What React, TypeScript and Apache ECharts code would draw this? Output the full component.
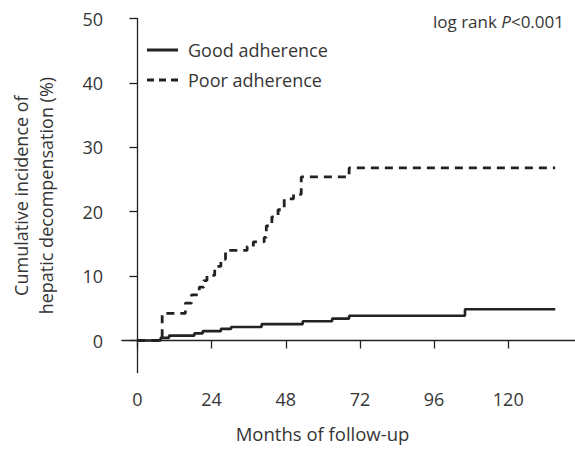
import React, { useEffect, useRef } from "react";
import * as echarts from "echarts";

const xTicks = [0, 24, 48, 72, 96, 120];
const yTicks = [0, 10, 20, 30, 40, 50];

const goodTimes = [0, 7.5, 10.2, 18.4, 21.1, 27, 30.3, 40.2, 53.5, 63, 68.5, 106, 135.2];
const goodValues = [0, 0.4, 0.75, 1.1, 1.45, 1.8, 2.1, 2.55, 3.0, 3.4, 3.85, 4.85, 4.85];

const poorTimes = [0, 8, 15.5, 17.5, 20, 21.5, 22.5, 25, 27, 28.5, 35.5, 37.5, 41, 41.7, 43.5, 45.5, 47.5, 50.5, 53, 68.5, 135.2];
const poorValues = [0, 4.2, 5.8, 7.1, 8.3, 9.3, 10.1, 11.5, 12.6, 14.0, 14.6, 15.3, 16.0, 17.8, 19.2, 20.3, 22.0, 22.7, 25.4, 26.8, 26.8];

const FONT = "'Open Sans', 'Noto Sans', sans-serif";
const TEXT = "#363636";
const INK = "#222";

const SOLID_ICON = "path://M0,0h31v3h-31z";
const DASH_ICON = "path://M0,0h7v3h-7z M12,0h7v3h-7z M24,0h7v3h-7z";

export default function App() {
  const ref = useRef<HTMLDivElement>(null);
  useEffect(() => {
    if (!ref.current) return;
    const chart = echarts.init(ref.current, null, { renderer: "svg" });
    const good = goodTimes.map((t, i) => [t, goodValues[i]]);
    const poor = poorTimes.map((t, i) => [t, poorValues[i]]);
    chart.setOption({
      animation: false,
      textStyle: { fontFamily: FONT },
      title: {
        text: "{a|log rank }{i|P}{a|<0.001}",
        right: 6,
        top: 8,
        textStyle: {
          fontWeight: "normal",
          rich: {
            a: { fontFamily: FONT, fontSize: 17, color: TEXT, fontWeight: "normal" },
            i: { fontFamily: FONT, fontSize: 17, color: TEXT, fontStyle: "italic", fontWeight: "normal" },
          },
        },
      },
      legend: {
        orient: "vertical",
        left: 147,
        top: 40,
        itemWidth: 31,
        itemHeight: 3,
        itemGap: 10,
        padding: 0,
        itemStyle: { color: INK, borderWidth: 0 },
        textStyle: { fontFamily: FONT, fontSize: 18, color: TEXT, lineHeight: 20, padding: [0, 0, 0, 5] },
        data: [
          { name: "Good adherence", icon: SOLID_ICON },
          { name: "Poor adherence", icon: DASH_ICON },
        ],
      },
      grid: { left: 122, right: 0, top: 18.5, bottom: 79.3, outerBoundsMode: "none" },
      xAxis: {
        type: "value",
        min: -5,
        max: 141.6,
        name: "Months of follow-up",
        nameLocation: "middle",
        nameGap: 51,
        nameTextStyle: { fontFamily: FONT, fontSize: 18.5, color: TEXT, padding: [0, 52, 0, 0] },
        axisLine: { show: true, lineStyle: { color: INK, width: 1.3 } },
        axisTick: { show: true, length: 8, lineStyle: { color: INK, width: 1.3 }, customValues: xTicks },
        axisLabel: { fontFamily: FONT, fontSize: 18, color: TEXT, margin: 17, customValues: xTicks },
        splitLine: { show: false },
      },
      yAxis: {
        type: "value",
        min: -5,
        max: 50,
        name: "Cumulative incidence of\nhepatic decompensation (%)",
        nameLocation: "middle",
        nameGap: 64,
        nameTextStyle: { fontFamily: FONT, fontSize: 18, color: TEXT, lineHeight: 25 },
        axisLine: { show: true, lineStyle: { color: INK, width: 1.3 } },
        axisTick: { show: true, length: 8, lineStyle: { color: INK, width: 1.3 }, customValues: yTicks },
        axisLabel: { fontFamily: FONT, fontSize: 18, color: TEXT, margin: 19, customValues: yTicks },
        splitLine: { show: false },
      },
      series: [
        {
          name: "Good adherence",
          type: "line",
          step: "end",
          symbol: "none",
          data: good,
          lineStyle: { color: INK, width: 2.6 },
          itemStyle: { color: INK },
          z: 3,
        },
        {
          name: "Poor adherence",
          type: "line",
          step: "end",
          symbol: "none",
          data: poor,
          lineStyle: { color: INK, width: 2.8, type: [8, 6] },
          itemStyle: { color: INK },
          z: 2,
        },
      ],
    });
    return () => chart.dispose();
  }, []);
  return (
    <div
      ref={ref}
      style={{ position: "fixed", left: 0, top: 0, width: 575, height: 452, background: "#fff" }}
    />
  );
}
